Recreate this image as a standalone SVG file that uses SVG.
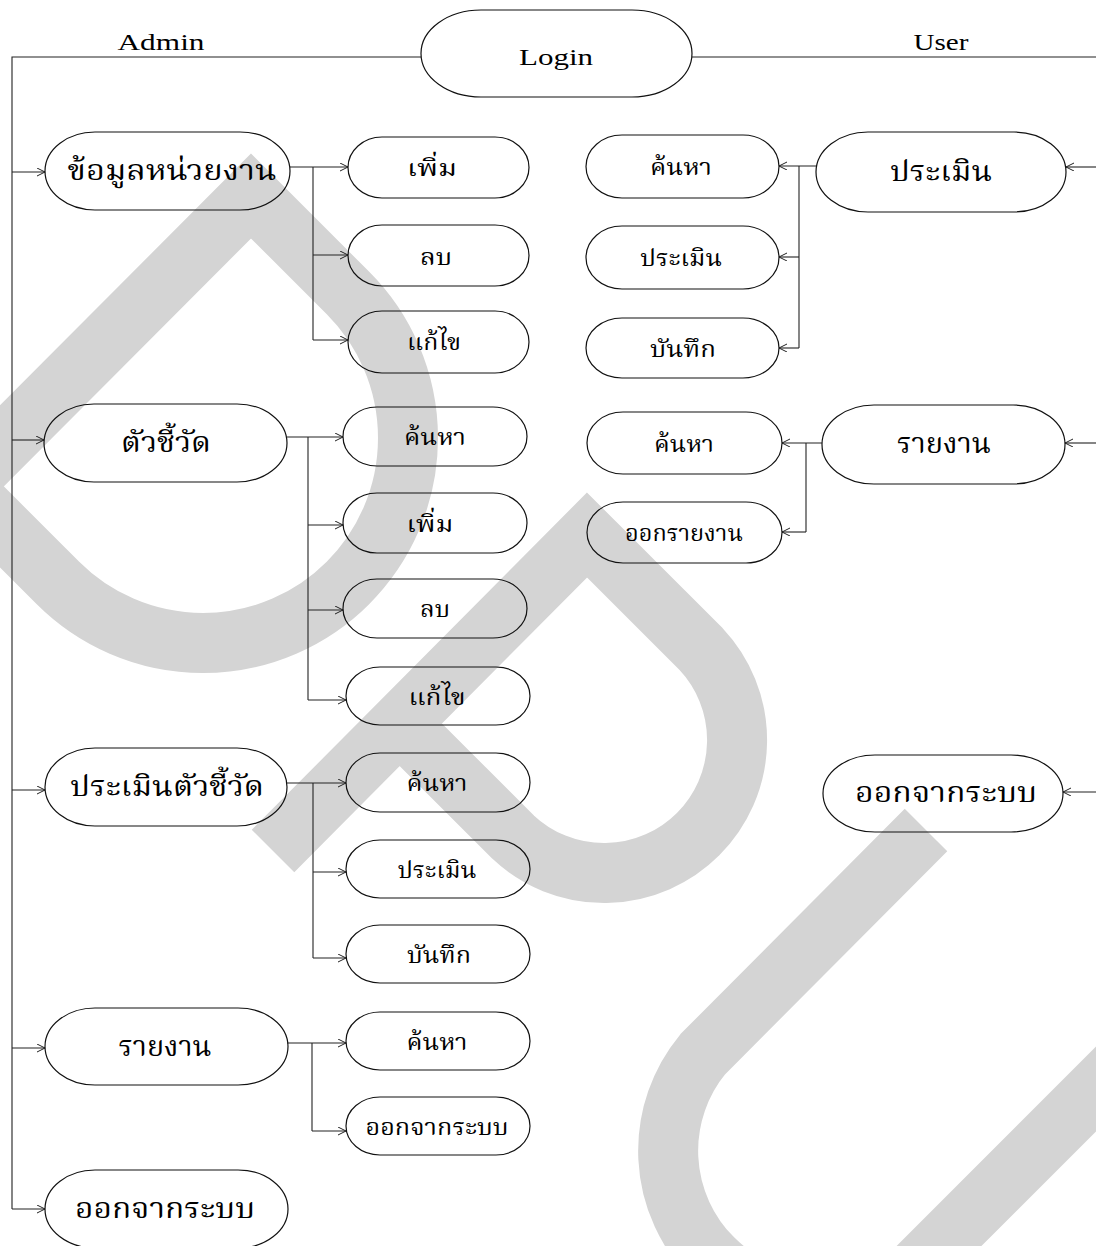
<svg xmlns="http://www.w3.org/2000/svg" width="1096" height="1246" viewBox="0 0 1096 1246">
<style>
.wm{fill:none;stroke:#d4d4d4;stroke-width:60;stroke-linejoin:miter;stroke-linecap:butt}
.nd{fill:none;stroke:#111;stroke-width:1.2}
.cn{fill:none;stroke:#222;stroke-width:1.1}
.ar{fill:none;stroke:#222;stroke-width:1.1;marker-end:url(#ah)}
.big{font-family:"Noto Serif Thai","Norasi","Laksaman","Liberation Serif","Noto Sans CJK SC",serif;font-size:28px;fill:#000;text-anchor:middle}
.sub{font-family:"Noto Serif Thai","Norasi","Laksaman","Liberation Serif","Noto Sans CJK SC",serif;font-size:23px;fill:#000;text-anchor:middle}
.lat{font-family:"Liberation Serif",serif;font-size:24px;fill:#000;text-anchor:middle}
</style>
<defs>
<marker id="ah" markerUnits="userSpaceOnUse" markerWidth="10" markerHeight="10" refX="8" refY="4" orient="auto">
<path d="M0,0 L8,4 L0,8" fill="none" stroke="#222" stroke-width="1"/>
</marker>
</defs>
<rect width="1096" height="1246" fill="#fff"/>
<g id="watermark">
<path class="wm" d="M-65,513 L251,196 L348,293 A205,205 0 0 1 58,583 L-60,465"/>
<path class="wm" d="M273,851 L587,535 L701,649 A133,133 0 0 1 513,837 L399,723"/>
<path class="wm" d="M926,830 L703,1054 A152,152 0 0 0 917,1268 L1250,935"/>
</g>
<g id="connectors">
<path class="cn" d="M421,57 H12 V1209"/>
<path class="cn" d="M692,57 H1096"/>
<path class="ar" d="M12,172 H45"/>
<path class="ar" d="M12,440 H44"/>
<path class="ar" d="M12,790 H45"/>
<path class="ar" d="M12,1048 H45"/>
<path class="ar" d="M12,1209 H45"/>
<path class="ar" d="M290,167 H348"/>
<path class="cn" d="M313,167 V340"/>
<path class="ar" d="M313,255 H348"/>
<path class="ar" d="M313,340 H348"/>
<path class="ar" d="M287,437 H343"/>
<path class="cn" d="M308,437 V700"/>
<path class="ar" d="M308,525 H343"/>
<path class="ar" d="M308,610 H343"/>
<path class="ar" d="M308,700 H346"/>
<path class="ar" d="M287,783 H346"/>
<path class="cn" d="M313,783 V958"/>
<path class="ar" d="M313,872 H346"/>
<path class="ar" d="M313,958 H346"/>
<path class="ar" d="M287,1043 H346"/>
<path class="cn" d="M312,1043 V1131"/>
<path class="ar" d="M312,1131 H346"/>
<path class="ar" d="M1096,167 H1066"/>
<path class="ar" d="M816,166 H779"/>
<path class="cn" d="M799,166 V348"/>
<path class="ar" d="M799,257 H779"/>
<path class="ar" d="M799,348 H779"/>
<path class="ar" d="M1096,443 H1065"/>
<path class="ar" d="M822,443 H782"/>
<path class="cn" d="M806,443 V532"/>
<path class="ar" d="M806,532 H782"/>
<path class="ar" d="M1096,792 H1063"/>
</g>
<text class="lat" x="161" y="50" textLength="87" lengthAdjust="spacingAndGlyphs">Admin</text>
<text class="lat" x="941" y="50" textLength="55" lengthAdjust="spacingAndGlyphs">User</text>
<g id="login"><rect class="nd" x="421" y="10" width="271" height="87" rx="60" ry="43.5"/><text class="lat" x="556" y="65" textLength="74" lengthAdjust="spacingAndGlyphs">Login</text></g>
<g id="a-unit"><rect class="nd" x="45" y="132" width="245" height="78" rx="50" ry="39"/><text class="big" x="172" y="180" textLength="209" lengthAdjust="spacingAndGlyphs">ข้อมูลหน่วยงาน</text></g>
<g id="a-unit-add"><rect class="nd" x="348" y="137" width="181" height="61" rx="34" ry="30.5"/><text class="sub" x="432" y="176" textLength="50" lengthAdjust="spacingAndGlyphs">เพิ่ม</text></g>
<g id="a-unit-del"><rect class="nd" x="348" y="225" width="181" height="61" rx="34" ry="30.5"/><text class="sub" x="436" y="265" textLength="32" lengthAdjust="spacingAndGlyphs">ลบ</text></g>
<g id="a-unit-edit"><rect class="nd" x="348" y="311" width="181" height="62" rx="34" ry="31"/><text class="sub" x="434" y="350" textLength="54" lengthAdjust="spacingAndGlyphs">แก้ไข</text></g>
<g id="a-ind"><rect class="nd" x="44" y="404" width="243" height="78" rx="50" ry="39"/><text class="big" x="166" y="452" textLength="90" lengthAdjust="spacingAndGlyphs">ตัวชี้วัด</text></g>
<g id="a-ind-search"><rect class="nd" x="343" y="407" width="184" height="59" rx="34" ry="29.5"/><text class="sub" x="435" y="445" textLength="62" lengthAdjust="spacingAndGlyphs">ค้นหา</text></g>
<g id="a-ind-add"><rect class="nd" x="343" y="493" width="184" height="60" rx="34" ry="30"/><text class="sub" x="430" y="532" textLength="47" lengthAdjust="spacingAndGlyphs">เพิ่ม</text></g>
<g id="a-ind-del"><rect class="nd" x="343" y="579" width="184" height="59" rx="34" ry="29.5"/><text class="sub" x="435" y="617" textLength="30" lengthAdjust="spacingAndGlyphs">ลบ</text></g>
<g id="a-ind-edit"><rect class="nd" x="346" y="667" width="184" height="58" rx="34" ry="29"/><text class="sub" x="437" y="705" textLength="57" lengthAdjust="spacingAndGlyphs">แก้ไข</text></g>
<g id="a-eval"><rect class="nd" x="45" y="748" width="242" height="78" rx="50" ry="39"/><text class="big" x="167" y="796" textLength="194" lengthAdjust="spacingAndGlyphs">ประเมินตัวชี้วัด</text></g>
<g id="a-eval-search"><rect class="nd" x="346" y="753" width="184" height="59" rx="34" ry="29.5"/><text class="sub" x="437" y="791" textLength="61" lengthAdjust="spacingAndGlyphs">ค้นหา</text></g>
<g id="a-eval-eval"><rect class="nd" x="346" y="840" width="184" height="58" rx="34" ry="29"/><text class="sub" x="437" y="878" textLength="79" lengthAdjust="spacingAndGlyphs">ประเมิน</text></g>
<g id="a-eval-save"><rect class="nd" x="346" y="925" width="184" height="58" rx="34" ry="29"/><text class="sub" x="439" y="963" textLength="64" lengthAdjust="spacingAndGlyphs">บันทึก</text></g>
<g id="a-report"><rect class="nd" x="45" y="1008" width="243" height="77" rx="50" ry="38.5"/><text class="big" x="165" y="1056" textLength="93" lengthAdjust="spacingAndGlyphs">รายงาน</text></g>
<g id="a-report-search"><rect class="nd" x="346" y="1012" width="184" height="58" rx="34" ry="29"/><text class="sub" x="437" y="1050" textLength="61" lengthAdjust="spacingAndGlyphs">ค้นหา</text></g>
<g id="a-report-logout"><rect class="nd" x="346" y="1097" width="184" height="58" rx="34" ry="29"/><text class="sub" x="437" y="1135" textLength="143" lengthAdjust="spacingAndGlyphs">ออกจากระบบ</text></g>
<g id="a-logout"><rect class="nd" x="45" y="1170" width="243" height="78" rx="50" ry="39"/><text class="big" x="165" y="1218" textLength="180" lengthAdjust="spacingAndGlyphs">ออกจากระบบ</text></g>
<g id="u-eval"><rect class="nd" x="816" y="132" width="250" height="80" rx="52" ry="40"/><text class="big" x="941" y="181" textLength="102" lengthAdjust="spacingAndGlyphs">ประเมิน</text></g>
<g id="u-eval-search"><rect class="nd" x="586" y="135" width="193" height="63" rx="36" ry="31.5"/><text class="sub" x="681" y="175" textLength="62" lengthAdjust="spacingAndGlyphs">ค้นหา</text></g>
<g id="u-eval-eval"><rect class="nd" x="586" y="226" width="193" height="63" rx="36" ry="31.5"/><text class="sub" x="681" y="266" textLength="82" lengthAdjust="spacingAndGlyphs">ประเมิน</text></g>
<g id="u-eval-save"><rect class="nd" x="586" y="318" width="193" height="60" rx="36" ry="30"/><text class="sub" x="683" y="357" textLength="66" lengthAdjust="spacingAndGlyphs">บันทึก</text></g>
<g id="u-report"><rect class="nd" x="822" y="405" width="243" height="79" rx="52" ry="39.5"/><text class="big" x="944" y="453" textLength="94" lengthAdjust="spacingAndGlyphs">รายงาน</text></g>
<g id="u-report-search"><rect class="nd" x="587" y="412" width="195" height="62" rx="36" ry="31"/><text class="sub" x="684" y="452" textLength="60" lengthAdjust="spacingAndGlyphs">ค้นหา</text></g>
<g id="u-report-out"><rect class="nd" x="587" y="502" width="195" height="61" rx="36" ry="30.5"/><text class="sub" x="684" y="541" textLength="118" lengthAdjust="spacingAndGlyphs">ออกรายงาน</text></g>
<g id="u-logout"><rect class="nd" x="823" y="755" width="240" height="77" rx="52" ry="38.5"/><text class="big" x="946" y="802" textLength="182" lengthAdjust="spacingAndGlyphs">ออกจากระบบ</text></g>
</svg>
